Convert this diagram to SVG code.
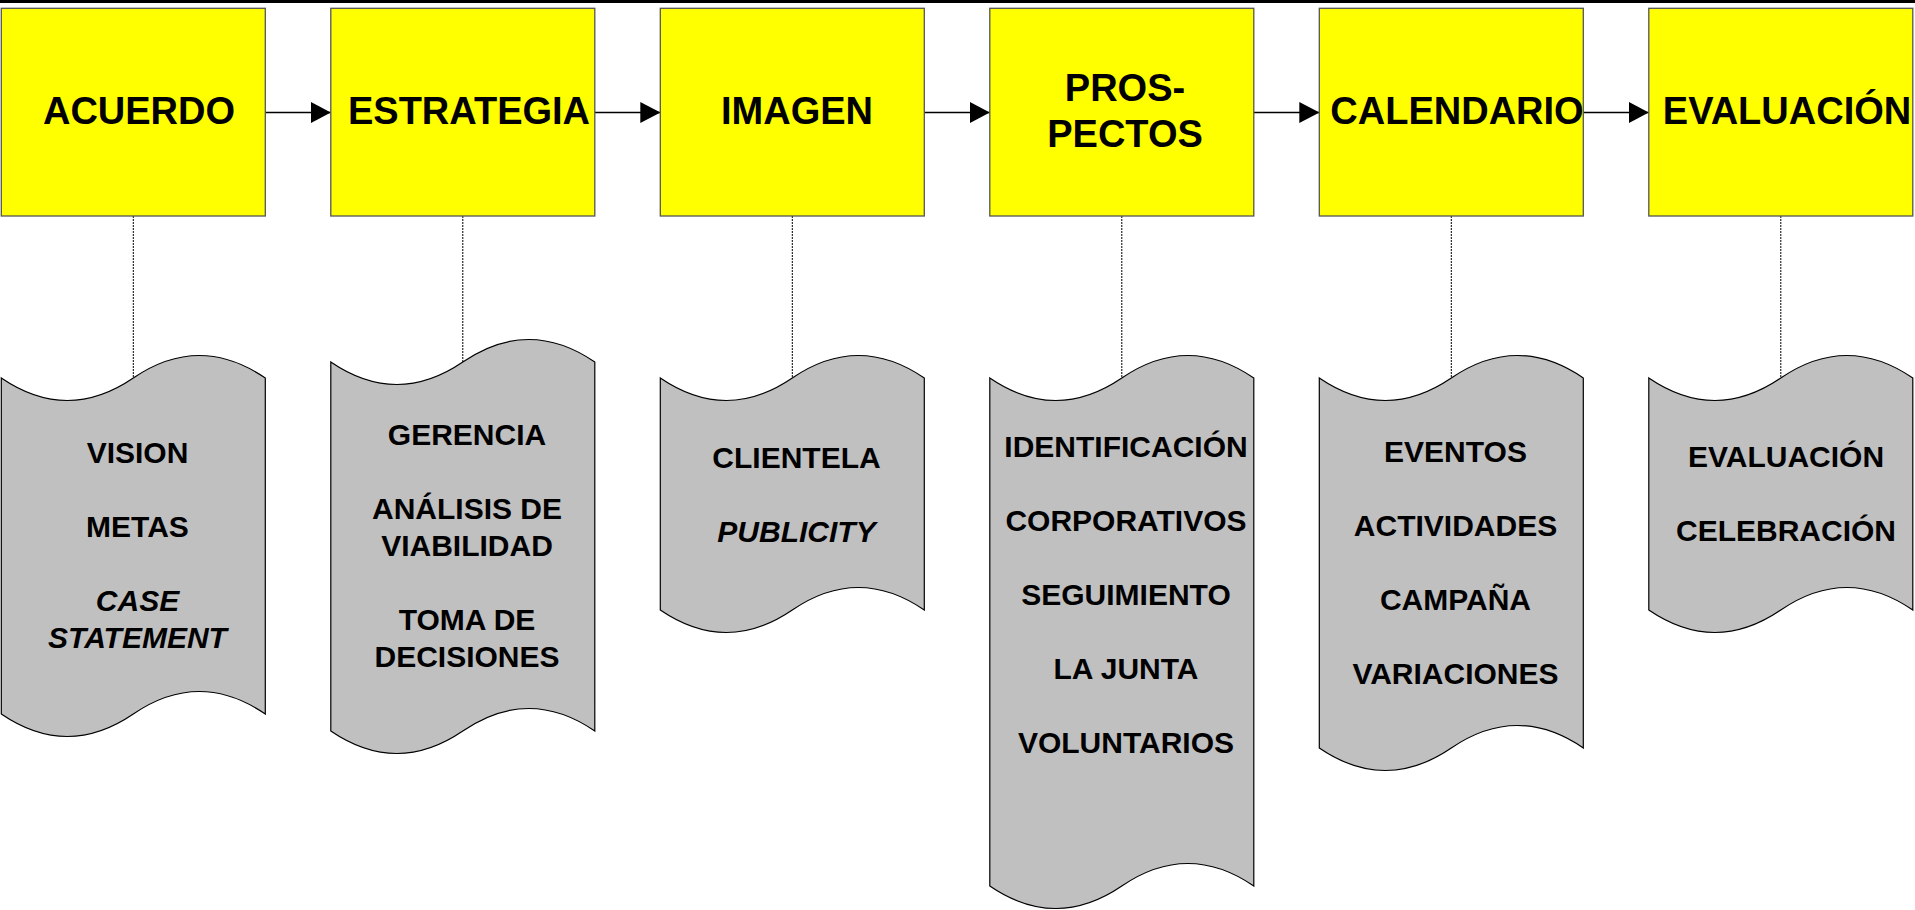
<svg xmlns="http://www.w3.org/2000/svg" width="1915" height="910" viewBox="0 0 1915 910">
<defs>
<style>
.box{fill:#FFFF00;stroke:#555;stroke-width:1.3}
.tape{fill:#C0C0C0;stroke:#000;stroke-width:1.2}
.t{font-family:"Liberation Sans",Arial,sans-serif;font-weight:bold;fill:#000;text-anchor:middle}
.h{font-size:38px}
.s{font-size:30px}
.i{font-style:italic}
.arr{stroke:#000;stroke-width:1.3;fill:none;marker-end:url(#ah)}
.dash{stroke:#000;stroke-width:1;stroke-dasharray:2 1;fill:none}
</style>
<marker id="ah" viewBox="0 0 20 21" markerUnits="userSpaceOnUse" markerWidth="20" markerHeight="21" refX="20" refY="10.5" orient="auto">
<path d="M0,0 L20,10.5 L0,21 Z" fill="#000"/>
</marker>
</defs>
<rect x="0" y="0" width="1915" height="3" fill="#000"/>

<g id="connectors">
<line class="arr" x1="265.3" y1="112.5" x2="330.8" y2="112.5"/>
<line class="arr" x1="594.8" y1="112.5" x2="660.3" y2="112.5"/>
<line class="arr" x1="924.3" y1="112.5" x2="989.8" y2="112.5"/>
<line class="arr" x1="1253.8" y1="112.5" x2="1319.3" y2="112.5"/>
<line class="arr" x1="1583.3" y1="112.5" x2="1648.8" y2="112.5"/>
<line class="dash" x1="133.3" y1="216" x2="133.3" y2="378"/>
<line class="dash" x1="462.8" y1="216" x2="462.8" y2="362"/>
<line class="dash" x1="792.3" y1="216" x2="792.3" y2="378"/>
<line class="dash" x1="1121.8" y1="216" x2="1121.8" y2="378"/>
<line class="dash" x1="1451.3" y1="216" x2="1451.3" y2="378"/>
<line class="dash" x1="1780.8" y1="216" x2="1780.8" y2="378"/>
</g>

<g id="acuerdo">
<rect class="box" x="1.3" y="8.3" width="264" height="207.7"/>
<text class="t h" x="139" y="124">ACUERDO</text>
</g>
<g id="estrategia">
<rect class="box" x="330.8" y="8.3" width="264" height="207.7"/>
<text class="t h" x="469" y="124">ESTRATEGIA</text>
</g>
<g id="imagen">
<rect class="box" x="660.3" y="8.3" width="264" height="207.7"/>
<text class="t h" x="797" y="124">IMAGEN</text>
</g>
<g id="prospectos">
<rect class="box" x="989.8" y="8.3" width="264" height="207.7"/>
<text class="t h" x="1125" y="101">PROS-</text>
<text class="t h" x="1125" y="147">PECTOS</text>
</g>
<g id="calendario">
<rect class="box" x="1319.3" y="8.3" width="264" height="207.7"/>
<text class="t h" x="1457" y="124">CALENDARIO</text>
</g>
<g id="evaluacion">
<rect class="box" x="1648.8" y="8.3" width="264" height="207.7"/>
<text class="t h" x="1787" y="124">EVALUACIÓN</text>
</g>

<g id="tape-acuerdo">
<path class="tape" d="M1.3,378 Q67.3,423 133.3,378 T265.3,378 L265.3,714 Q199.3,669 133.3,714 T1.3,714 Z"/>
<text class="t s" x="137.5" y="463">VISION</text>
<text class="t s" x="137.5" y="537">METAS</text>
<text class="t s i" x="137.5" y="611">CASE</text>
<text class="t s i" x="137.5" y="648">STATEMENT</text>
</g>
<g id="tape-estrategia">
<path class="tape" d="M330.8,362 Q396.8,407 462.8,362 T594.8,362 L594.8,731 Q528.8,686 462.8,731 T330.8,731 Z"/>
<text class="t s" x="467" y="445">GERENCIA</text>
<text class="t s" x="467" y="519">ANÁLISIS DE</text>
<text class="t s" x="467" y="556">VIABILIDAD</text>
<text class="t s" x="467" y="630">TOMA DE</text>
<text class="t s" x="467" y="667">DECISIONES</text>
</g>
<g id="tape-imagen">
<path class="tape" d="M660.3,378 Q726.3,423 792.3,378 T924.3,378 L924.3,610 Q858.3,565 792.3,610 T660.3,610 Z"/>
<text class="t s" x="796.5" y="468">CLIENTELA</text>
<text class="t s i" x="796.5" y="542">PUBLICITY</text>
</g>
<g id="tape-prospectos">
<path class="tape" d="M989.8,378 Q1055.8,423 1121.8,378 T1253.8,378 L1253.8,886 Q1187.8,841 1121.8,886 T989.8,886 Z"/>
<text class="t s" x="1126" y="457">IDENTIFICACIÓN</text>
<text class="t s" x="1126" y="531">CORPORATIVOS</text>
<text class="t s" x="1126" y="605">SEGUIMIENTO</text>
<text class="t s" x="1126" y="679">LA JUNTA</text>
<text class="t s" x="1126" y="753">VOLUNTARIOS</text>
</g>
<g id="tape-calendario">
<path class="tape" d="M1319.3,378 Q1385.3,423 1451.3,378 T1583.3,378 L1583.3,748 Q1517.3,703 1451.3,748 T1319.3,748 Z"/>
<text class="t s" x="1455.5" y="462">EVENTOS</text>
<text class="t s" x="1455.5" y="536">ACTIVIDADES</text>
<text class="t s" x="1455.5" y="610">CAMPAÑA</text>
<text class="t s" x="1455.5" y="684">VARIACIONES</text>
</g>
<g id="tape-evaluacion">
<path class="tape" d="M1648.8,378 Q1714.8,423 1780.8,378 T1912.8,378 L1912.8,610 Q1846.8,565 1780.8,610 T1648.8,610 Z"/>
<text class="t s" x="1786" y="467">EVALUACIÓN</text>
<text class="t s" x="1786" y="541">CELEBRACIÓN</text>
</g>
</svg>
